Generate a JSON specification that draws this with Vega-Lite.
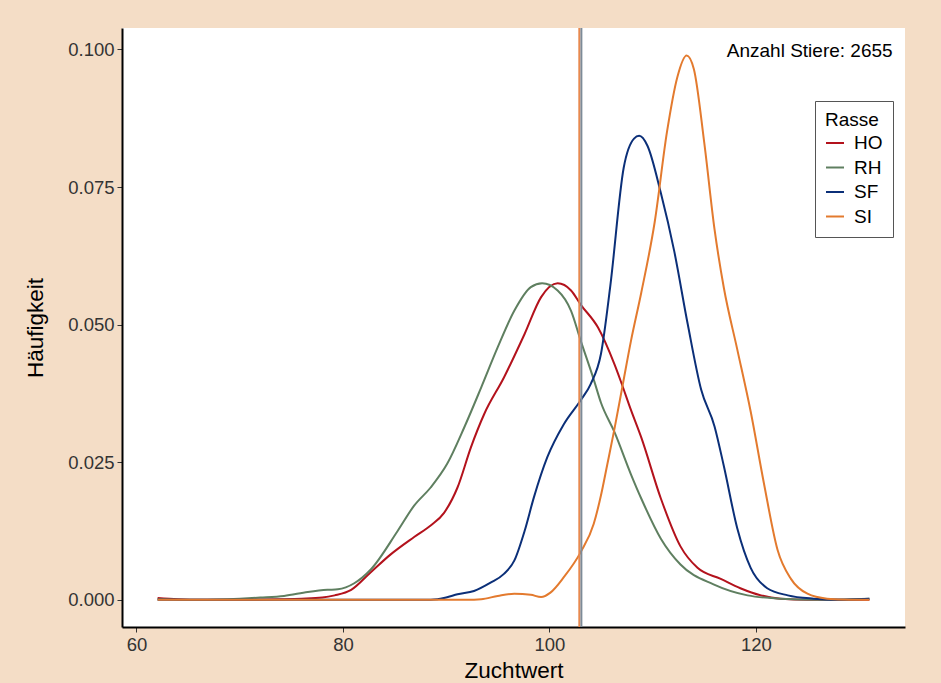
{
  "$schema": "https://vega.github.io/schema/vega-lite/v6.json",
  "width": 783,
  "height": 599,
  "autosize": "none",
  "padding": {"left": 122, "top": 28, "right": 36, "bottom": 56},
  "background": "#F4DDC6",
  "config": {
    "view": {"stroke": null, "fill": "white"},
    "font": "Liberation Sans",
    "axis": {
      "grid": false,
      "domainColor": "black",
      "domainWidth": 2,
      "tickColor": "#333333",
      "tickSize": 5,
      "tickWidth": 1,
      "labelColor": "#333333",
      "labelFontSize": 18.5,
      "labelFont": "Liberation Sans",
      "titleFont": "Liberation Sans",
      "titleFontSize": 22.5,
      "titleFontWeight": "normal",
      "titleColor": "black"
    }
  },
  "layer": [
    {
      "data": {
        "values": [
          {"Rasse": "HO", "x": 62.05, "y": 0.0003},
          {"Rasse": "HO", "x": 64, "y": 0.0001},
          {"Rasse": "HO", "x": 66, "y": 0.0},
          {"Rasse": "HO", "x": 70, "y": 0.0},
          {"Rasse": "HO", "x": 74, "y": 0.0001},
          {"Rasse": "HO", "x": 76, "y": 0.0002},
          {"Rasse": "HO", "x": 78, "y": 0.0004},
          {"Rasse": "HO", "x": 79.2, "y": 0.0008},
          {"Rasse": "HO", "x": 80.8, "y": 0.0018},
          {"Rasse": "HO", "x": 82.7, "y": 0.005},
          {"Rasse": "HO", "x": 84.6, "y": 0.0082},
          {"Rasse": "HO", "x": 86.9, "y": 0.0114},
          {"Rasse": "HO", "x": 88.5, "y": 0.0135},
          {"Rasse": "HO", "x": 89.8, "y": 0.0158},
          {"Rasse": "HO", "x": 91.1, "y": 0.0204},
          {"Rasse": "HO", "x": 92.4, "y": 0.0277},
          {"Rasse": "HO", "x": 93.7, "y": 0.0338},
          {"Rasse": "HO", "x": 95.6, "y": 0.0404},
          {"Rasse": "HO", "x": 97.6, "y": 0.0483},
          {"Rasse": "HO", "x": 99.2, "y": 0.055},
          {"Rasse": "HO", "x": 100.8, "y": 0.0575},
          {"Rasse": "HO", "x": 102.1, "y": 0.0562},
          {"Rasse": "HO", "x": 103.05, "y": 0.0536},
          {"Rasse": "HO", "x": 104.7, "y": 0.0495},
          {"Rasse": "HO", "x": 106.3, "y": 0.0428},
          {"Rasse": "HO", "x": 106.9, "y": 0.0398},
          {"Rasse": "HO", "x": 107.9, "y": 0.0345},
          {"Rasse": "HO", "x": 108.9, "y": 0.0295},
          {"Rasse": "HO", "x": 110.8, "y": 0.0184},
          {"Rasse": "HO", "x": 112.7, "y": 0.0097},
          {"Rasse": "HO", "x": 114.35, "y": 0.0058},
          {"Rasse": "HO", "x": 116.6, "y": 0.0038},
          {"Rasse": "HO", "x": 118.5, "y": 0.0021},
          {"Rasse": "HO", "x": 120.5, "y": 0.0008},
          {"Rasse": "HO", "x": 122.4, "y": 0.0002},
          {"Rasse": "HO", "x": 125, "y": 0.0},
          {"Rasse": "HO", "x": 131, "y": 0.0},
          {"Rasse": "RH", "x": 62.05, "y": 0.0001},
          {"Rasse": "RH", "x": 66, "y": 0.0},
          {"Rasse": "RH", "x": 70, "y": 0.0002},
          {"Rasse": "RH", "x": 72, "y": 0.0004},
          {"Rasse": "RH", "x": 74.3, "y": 0.0007},
          {"Rasse": "RH", "x": 76.6, "y": 0.0014},
          {"Rasse": "RH", "x": 78.5, "y": 0.0018},
          {"Rasse": "RH", "x": 79.5, "y": 0.0019},
          {"Rasse": "RH", "x": 81.1, "y": 0.003},
          {"Rasse": "RH", "x": 82.7, "y": 0.0055},
          {"Rasse": "RH", "x": 85.3, "y": 0.0125},
          {"Rasse": "RH", "x": 86.9, "y": 0.0171},
          {"Rasse": "RH", "x": 88.5, "y": 0.0204},
          {"Rasse": "RH", "x": 90.1, "y": 0.0247},
          {"Rasse": "RH", "x": 91.75, "y": 0.0313},
          {"Rasse": "RH", "x": 93.4, "y": 0.0386},
          {"Rasse": "RH", "x": 95.0, "y": 0.0459},
          {"Rasse": "RH", "x": 96.6, "y": 0.0525},
          {"Rasse": "RH", "x": 98.2, "y": 0.0568},
          {"Rasse": "RH", "x": 99.3, "y": 0.0575},
          {"Rasse": "RH", "x": 100.8, "y": 0.0562},
          {"Rasse": "RH", "x": 102.1, "y": 0.0525},
          {"Rasse": "RH", "x": 103.05, "y": 0.047},
          {"Rasse": "RH", "x": 104.3, "y": 0.04},
          {"Rasse": "RH", "x": 105.0, "y": 0.0358},
          {"Rasse": "RH", "x": 106.3, "y": 0.0305},
          {"Rasse": "RH", "x": 107.9, "y": 0.0228},
          {"Rasse": "RH", "x": 108.9, "y": 0.0184},
          {"Rasse": "RH", "x": 110.8, "y": 0.0111},
          {"Rasse": "RH", "x": 112.7, "y": 0.0064},
          {"Rasse": "RH", "x": 115.9, "y": 0.0028},
          {"Rasse": "RH", "x": 119.2, "y": 0.0008},
          {"Rasse": "RH", "x": 122.4, "y": 0.0002},
          {"Rasse": "RH", "x": 126, "y": 0.0},
          {"Rasse": "RH", "x": 131, "y": 0.0002},
          {"Rasse": "SF", "x": 62.05, "y": 0.0},
          {"Rasse": "SF", "x": 88.5, "y": 0.0},
          {"Rasse": "SF", "x": 90, "y": 0.0004},
          {"Rasse": "SF", "x": 91.1, "y": 0.001},
          {"Rasse": "SF", "x": 92.7, "y": 0.0016},
          {"Rasse": "SF", "x": 94.3, "y": 0.0031},
          {"Rasse": "SF", "x": 95.6, "y": 0.0047},
          {"Rasse": "SF", "x": 96.6, "y": 0.0071},
          {"Rasse": "SF", "x": 97.6, "y": 0.0125},
          {"Rasse": "SF", "x": 98.5, "y": 0.0186},
          {"Rasse": "SF", "x": 99.8, "y": 0.0259},
          {"Rasse": "SF", "x": 101.4, "y": 0.0319},
          {"Rasse": "SF", "x": 103.05, "y": 0.0363},
          {"Rasse": "SF", "x": 104.0, "y": 0.0392},
          {"Rasse": "SF", "x": 105.0, "y": 0.0447},
          {"Rasse": "SF", "x": 105.9, "y": 0.057},
          {"Rasse": "SF", "x": 107.2, "y": 0.0785},
          {"Rasse": "SF", "x": 108.2, "y": 0.0838},
          {"Rasse": "SF", "x": 108.7, "y": 0.0843},
          {"Rasse": "SF", "x": 109.5, "y": 0.0825},
          {"Rasse": "SF", "x": 110.8, "y": 0.0739},
          {"Rasse": "SF", "x": 112.1, "y": 0.0633},
          {"Rasse": "SF", "x": 113.4, "y": 0.0501},
          {"Rasse": "SF", "x": 114.7, "y": 0.0382},
          {"Rasse": "SF", "x": 116.0, "y": 0.0315},
          {"Rasse": "SF", "x": 116.9, "y": 0.0243},
          {"Rasse": "SF", "x": 118.2, "y": 0.013},
          {"Rasse": "SF", "x": 119.5, "y": 0.0058},
          {"Rasse": "SF", "x": 121.1, "y": 0.0021},
          {"Rasse": "SF", "x": 123.1, "y": 0.0008},
          {"Rasse": "SF", "x": 125.6, "y": 0.0002},
          {"Rasse": "SF", "x": 128, "y": 0.0},
          {"Rasse": "SF", "x": 131, "y": 0.0002},
          {"Rasse": "SI", "x": 62.05, "y": 0.0},
          {"Rasse": "SI", "x": 92, "y": 0.0},
          {"Rasse": "SI", "x": 93.4, "y": 0.0001},
          {"Rasse": "SI", "x": 95.0, "y": 0.0007},
          {"Rasse": "SI", "x": 96.6, "y": 0.0011},
          {"Rasse": "SI", "x": 98.2, "y": 0.0009},
          {"Rasse": "SI", "x": 99.2, "y": 0.0005},
          {"Rasse": "SI", "x": 100.1, "y": 0.0013},
          {"Rasse": "SI", "x": 101.4, "y": 0.0041},
          {"Rasse": "SI", "x": 103.05, "y": 0.0087},
          {"Rasse": "SI", "x": 104.3, "y": 0.0138},
          {"Rasse": "SI", "x": 105.0, "y": 0.019},
          {"Rasse": "SI", "x": 105.6, "y": 0.0245},
          {"Rasse": "SI", "x": 106.3, "y": 0.031},
          {"Rasse": "SI", "x": 107.1, "y": 0.039},
          {"Rasse": "SI", "x": 107.9, "y": 0.047},
          {"Rasse": "SI", "x": 108.9, "y": 0.0558},
          {"Rasse": "SI", "x": 110.2, "y": 0.0686},
          {"Rasse": "SI", "x": 111.4, "y": 0.0851},
          {"Rasse": "SI", "x": 112.4, "y": 0.095},
          {"Rasse": "SI", "x": 113.3, "y": 0.0989},
          {"Rasse": "SI", "x": 114.0, "y": 0.0964},
          {"Rasse": "SI", "x": 115.0, "y": 0.0831},
          {"Rasse": "SI", "x": 116.0, "y": 0.0673},
          {"Rasse": "SI", "x": 116.9, "y": 0.0567},
          {"Rasse": "SI", "x": 118.2, "y": 0.0455},
          {"Rasse": "SI", "x": 119.5, "y": 0.0342},
          {"Rasse": "SI", "x": 120.8, "y": 0.021},
          {"Rasse": "SI", "x": 122.1, "y": 0.0091},
          {"Rasse": "SI", "x": 123.4, "y": 0.0038},
          {"Rasse": "SI", "x": 125.0, "y": 0.0011},
          {"Rasse": "SI", "x": 126.9, "y": 0.0002},
          {"Rasse": "SI", "x": 129, "y": 0.0},
          {"Rasse": "SI", "x": 131, "y": 0.0}
        ]
      },
      "mark": {"type": "line", "interpolate": "monotone", "strokeWidth": 2},
      "encoding": {
        "x": {
          "field": "x", "type": "quantitative",
          "scale": {"domain": [58.6, 134.45], "nice": false, "zero": false},
          "axis": {"values": [60, 80, 100, 120], "title": "Zuchtwert", "labelPadding": 3, "titlePadding": 6}
        },
        "y": {
          "field": "y", "type": "quantitative",
          "scale": {"domain": [-0.00495, 0.1039], "nice": false, "zero": false},
          "axis": {"values": [0, 0.025, 0.05, 0.075, 0.1], "format": ".3f", "title": "Häufigkeit", "labelPadding": 3, "titlePadding": 20}
        },
        "color": {
          "field": "Rasse", "type": "nominal",
          "scale": {"domain": ["HO", "RH", "SF", "SI"], "range": ["#B3121C", "#5F7F60", "#0B2F78", "#E37A2E"]},
          "legend": {
            "orient": "none", "legendX": 693, "legendY": 73,
            "title": "Rasse", "titleFontSize": 19, "titleFontWeight": "normal", "titleColor": "black",
            "labelFontSize": 19, "labelColor": "black",
            "symbolType": "stroke", "symbolSize": 324, "symbolStrokeWidth": 2,
            "rowPadding": 4.5, "titlePadding": 3,
            "padding": 10, "fillColor": "white", "strokeColor": "#555555",
            "labelOffset": 9
          }
        },
        "detail": {"field": "Rasse"}
      }
    },
    {
      "data": {"values": [{"m": 102.9}]},
      "mark": {"type": "rule", "color": "#E8894F", "strokeWidth": 2},
      "encoding": {"x": {"field": "m", "type": "quantitative"}}
    },
    {
      "data": {"values": [{"m": 103.1}]},
      "mark": {"type": "rule", "color": "#7D8B98", "strokeWidth": 2},
      "encoding": {"x": {"field": "m", "type": "quantitative"}}
    },
    {
      "data": {"values": [{"lx": 133.25, "ly": 0.0998, "label": "Anzahl Stiere: 2655"}]},
      "mark": {"type": "text", "align": "right", "baseline": "middle", "fontSize": 19, "color": "black", "font": "Liberation Sans"},
      "encoding": {"x": {"field": "lx", "type": "quantitative"}, "y": {"field": "ly", "type": "quantitative"}, "text": {"field": "label"}}
    }
  ]
}
